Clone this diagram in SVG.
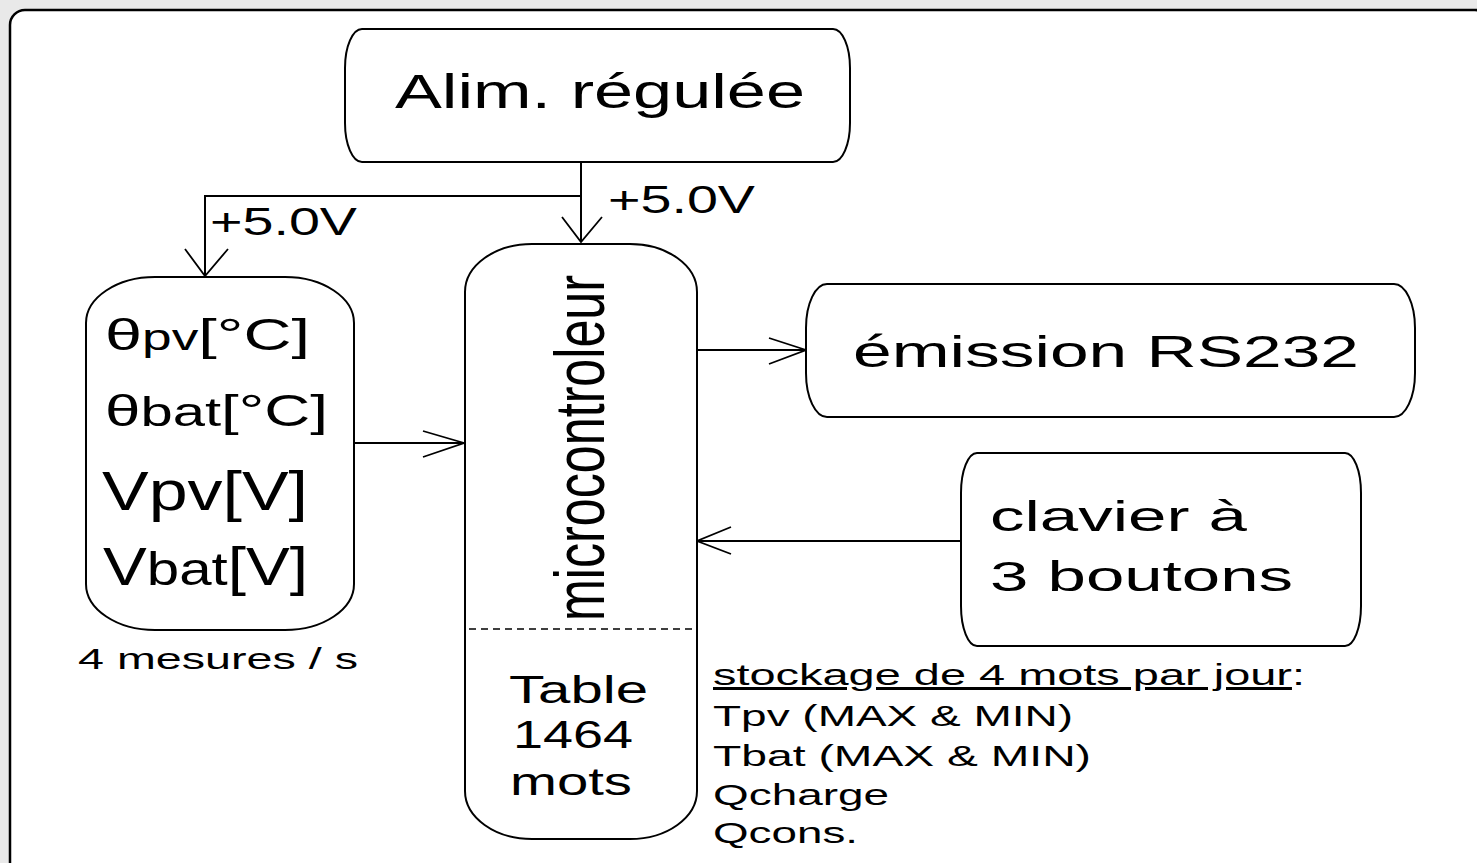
<svg xmlns="http://www.w3.org/2000/svg" width="1477" height="863" viewBox="0 0 1477 863">
<style>
.box{fill:#fff;stroke:#000;stroke-width:2}
.ln{fill:none;stroke:#000;stroke-width:2}
.ah{fill:none;stroke:#000;stroke-width:1.8}
text{font-family:"Liberation Sans",Arial,sans-serif;fill:#000}
</style>
<rect x="0" y="0" width="1477" height="863" fill="#e9e9e9"/>
<rect x="10" y="10" width="1480" height="870" rx="15" ry="15" fill="#fff" stroke="#000" stroke-width="2.5"/>
<g id="connectors">
<path class="ln" d="M581,162 V242"/>
<path class="ah" d="M562,217 L581,242 L602,217"/>
<path class="ln" d="M581,196 H205 V276"/>
<path class="ah" d="M185,249 L205,276 L228,249"/>
<path class="ln" d="M354,443 H464"/>
<path class="ah" d="M423,431 L464,443 L423,457"/>
<path class="ln" d="M697,350 H806"/>
<path class="ah" d="M769,338 L806,350 L769,364"/>
<path class="ln" d="M961,541 H697"/>
<path class="ah" d="M731,527 L697,541 L731,554"/>
<text x="608" y="213" font-size="39" textLength="147" lengthAdjust="spacingAndGlyphs">+5.0V</text>
<text x="210" y="235" font-size="39" textLength="147" lengthAdjust="spacingAndGlyphs">+5.0V</text>
</g>
<g id="alim">
<rect class="box" x="345" y="29" width="505" height="133" rx="17" ry="39"/>
<text x="395" y="108" font-size="48" textLength="410" lengthAdjust="spacingAndGlyphs">Alim. régulée</text>
</g>
<g id="capteurs">
<rect class="box" x="86" y="277" width="268" height="353" rx="69" ry="46"/>
<text x="105" y="350" font-size="45" textLength="205" lengthAdjust="spacingAndGlyphs">θ<tspan font-size="36">pv</tspan>[°C]</text>
<text x="105" y="426" font-size="44" textLength="223" lengthAdjust="spacingAndGlyphs">θ<tspan font-size="40">bat</tspan>[°C]</text>
<text x="102" y="510" font-size="56" textLength="206" lengthAdjust="spacingAndGlyphs">Vpv[V]</text>
<text x="103" y="585" font-size="53" textLength="205" lengthAdjust="spacingAndGlyphs">V<tspan font-size="47">bat</tspan>[V]</text>
<text x="78" y="669" font-size="30" textLength="280" lengthAdjust="spacingAndGlyphs">4 mesures / s</text>
</g>
<g id="microcontroleur">
<rect class="box" x="465" y="244" width="232" height="595" rx="67" ry="48"/>
<path d="M469,629 H695" fill="none" stroke="#000" stroke-width="1.5" stroke-dasharray="7 5"/>
<text transform="translate(604,621) rotate(-90)" font-size="71" textLength="346" lengthAdjust="spacingAndGlyphs">microcontroleur</text>
<text x="509" y="703" font-size="38" textLength="139" lengthAdjust="spacingAndGlyphs">Table</text>
<text x="513" y="748" font-size="38" textLength="120" lengthAdjust="spacingAndGlyphs">1464</text>
<text x="510" y="795" font-size="38" textLength="122" lengthAdjust="spacingAndGlyphs">mots</text>
</g>
<g id="emission">
<rect class="box" x="806" y="284" width="609" height="133" rx="21" ry="44"/>
<text x="853" y="367" font-size="45" textLength="506" lengthAdjust="spacingAndGlyphs">émission RS232</text>
</g>
<g id="clavier">
<rect class="box" x="961" y="453" width="400" height="193" rx="16" ry="40"/>
<text x="990" y="531" font-size="42" textLength="257" lengthAdjust="spacingAndGlyphs">clavier à</text>
<text x="990" y="591" font-size="42" textLength="303" lengthAdjust="spacingAndGlyphs">3 boutons</text>
</g>
<g id="stockage">
<text x="713" y="685" font-size="30" textLength="592" lengthAdjust="spacingAndGlyphs"><tspan text-decoration="underline">stockage de 4 mots par jour</tspan>:</text>
<text x="713" y="726" font-size="30" textLength="360" lengthAdjust="spacingAndGlyphs">Tpv (MAX &amp; MIN)</text>
<text x="713" y="766" font-size="30" textLength="378" lengthAdjust="spacingAndGlyphs">Tbat (MAX &amp; MIN)</text>
<text x="713" y="805" font-size="30" textLength="176" lengthAdjust="spacingAndGlyphs">Qcharge</text>
<text x="713" y="843" font-size="30" textLength="145" lengthAdjust="spacingAndGlyphs">Qcons.</text>
</g>
</svg>
